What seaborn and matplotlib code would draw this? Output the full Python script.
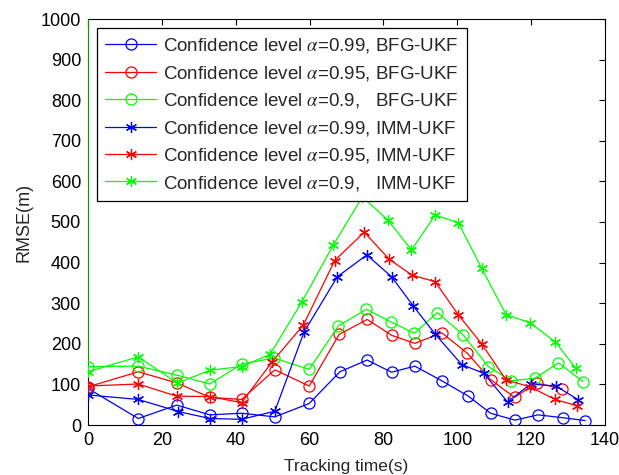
import matplotlib
matplotlib.use("Agg")
import matplotlib.pyplot as plt
import seaborn as sns
import pandas as pd
import numpy as np

sns.set_style("white")
plt.rcParams['font.family'] = ['Liberation Sans', 'DejaVu Sans']
plt.rcParams['mathtext.fontset'] = 'stix'

# ---- data ----
t_bfg_99 = [0, 13.6, 24.0, 33.0, 41.6, 50.6, 59.9, 68.2, 75.6, 82.2, 88.5, 95.8, 103.0, 109.0, 115.6, 121.9, 128.5, 134.6]
v_bfg_99 = [90, 16, 49, 25, 29, 20, 53, 131, 160, 130, 145, 109, 71, 29, 12, 25, 18, 11]

t_bfg_95 = [0, 13.6, 24.0, 33.0, 41.6, 50.6, 59.9, 68.0, 75.6, 82.2, 88.5, 95.8, 102.7, 109.0, 115.5, 121.5, 128.4]
v_bfg_95 = [94, 131, 104, 68, 63, 136, 96, 223, 260, 221, 201, 227, 177, 112, 68, 103, 89]

t_bfg_90 = [0, 13.6, 24.0, 33.0, 41.6, 50.4, 59.9, 67.8, 75.4, 82.0, 88.4, 94.6, 101.6, 108.4, 114.5, 121.0, 127.4, 134.0]
v_bfg_90 = [144, 145, 123, 101, 150, 165, 137, 244, 285, 254, 226, 277, 222, 144, 109, 115, 153, 107]

t_imm_99 = [0, 13.6, 24.5, 33.0, 41.6, 50.6, 58.5, 67.5, 75.5, 82.2, 88.1, 94.0, 101.2, 107.2, 113.6, 119.9, 126.7, 132.8]
v_imm_99 = [74, 63, 33, 16, 14, 34, 229, 365, 419, 365, 293, 224, 149, 127, 57, 101, 96, 62]

t_imm_95 = [0, 13.6, 24.0, 33.0, 41.6, 49.8, 58.3, 66.8, 74.8, 81.6, 87.8, 94.0, 100.3, 106.6, 113.2, 119.7, 126.5, 132.5]
v_imm_95 = [96, 101, 71, 70, 55, 155, 246, 405, 475, 408, 369, 353, 271, 200, 111, 94, 63, 47]

t_imm_90 = [0, 0, 13.6, 24.2, 33.0, 41.6, 49.3, 57.9, 66.4, 74.3, 81.3, 87.6, 94.0, 100.3, 106.6, 113.2, 119.7, 126.5, 132.1]
v_imm_90 = [2000, 131, 168, 103, 135, 144, 174, 303, 443, 562, 504, 431, 517, 498, 386, 272, 252, 205, 140]

labels = [
    r"Confidence level $\alpha$=0.99, BFG-UKF",
    r"Confidence level $\alpha$=0.95, BFG-UKF",
    r"Confidence level $\alpha$=0.9,   BFG-UKF",
    r"Confidence level $\alpha$=0.99, IMM-UKF",
    r"Confidence level $\alpha$=0.95, IMM-UKF",
    r"Confidence level $\alpha$=0.9,   IMM-UKF",
]
xticks = [0, 20, 40, 60, 80, 100, 120, 140]
yticks = [0, 100, 200, 300, 400, 500, 600, 700, 800, 900, 1000]

series = [
    (t_bfg_99, v_bfg_99, '#0000ff', 'o'),
    (t_bfg_95, v_bfg_95, '#ff0000', 'o'),
    (t_bfg_90, v_bfg_90, '#00ff00', 'o'),
    (t_imm_99, v_imm_99, '#0000ff', (6, 2, 0)),
    (t_imm_95, v_imm_95, '#ff0000', (6, 2, 0)),
    (t_imm_90, v_imm_90, '#00ff00', (6, 2, 0)),
]

fig = plt.figure(figsize=(6.19, 4.75), dpi=100)
ax = fig.add_axes([88/619, 1-425/475, 517/619, 406/475])

for (t, v, c, m), lab in zip(series, labels):
    df = pd.DataFrame({"t": t, "v": v})
    if m == 'o':
        kw = dict(markersize=8, markerfacecolor='none', markeredgecolor=c, markeredgewidth=0.9)
    else:
        kw = dict(markersize=8, markeredgecolor=c, markeredgewidth=0.9)
    sns.lineplot(data=df, x="t", y="v", ax=ax, color=c, marker=m, estimator=None,
                 sort=False, label=lab, linewidth=0.9, zorder=3, **kw)

ax.set_xlim(0, 140)
ax.set_ylim(0, 1000)
ax.set_xticks(xticks)
ax.set_yticks(yticks)
ax.tick_params(direction='in', length=4, width=0.8, top=True, right=True,
               labelsize=13, colors='black', pad=5)
for s in ax.spines.values():
    s.set_color('black')
    s.set_linewidth(0.8)
ax.spines['left'].set_zorder(1)
ax.set_xlabel("Tracking time(s)", fontsize=12.5, labelpad=7)
ax.set_ylabel("RMSE(m)", fontsize=13, labelpad=6)

leg = ax.legend(loc='upper left', bbox_to_anchor=(0.017, 0.978), fontsize=13.5,
                frameon=True, fancybox=False, edgecolor='black', framealpha=1,
                handlelength=2.7, labelspacing=0.45, borderpad=0.45, handletextpad=0.4,
                borderaxespad=0)
leg.get_frame().set_linewidth(0.9)

fig.savefig("out.png", dpi=100)
